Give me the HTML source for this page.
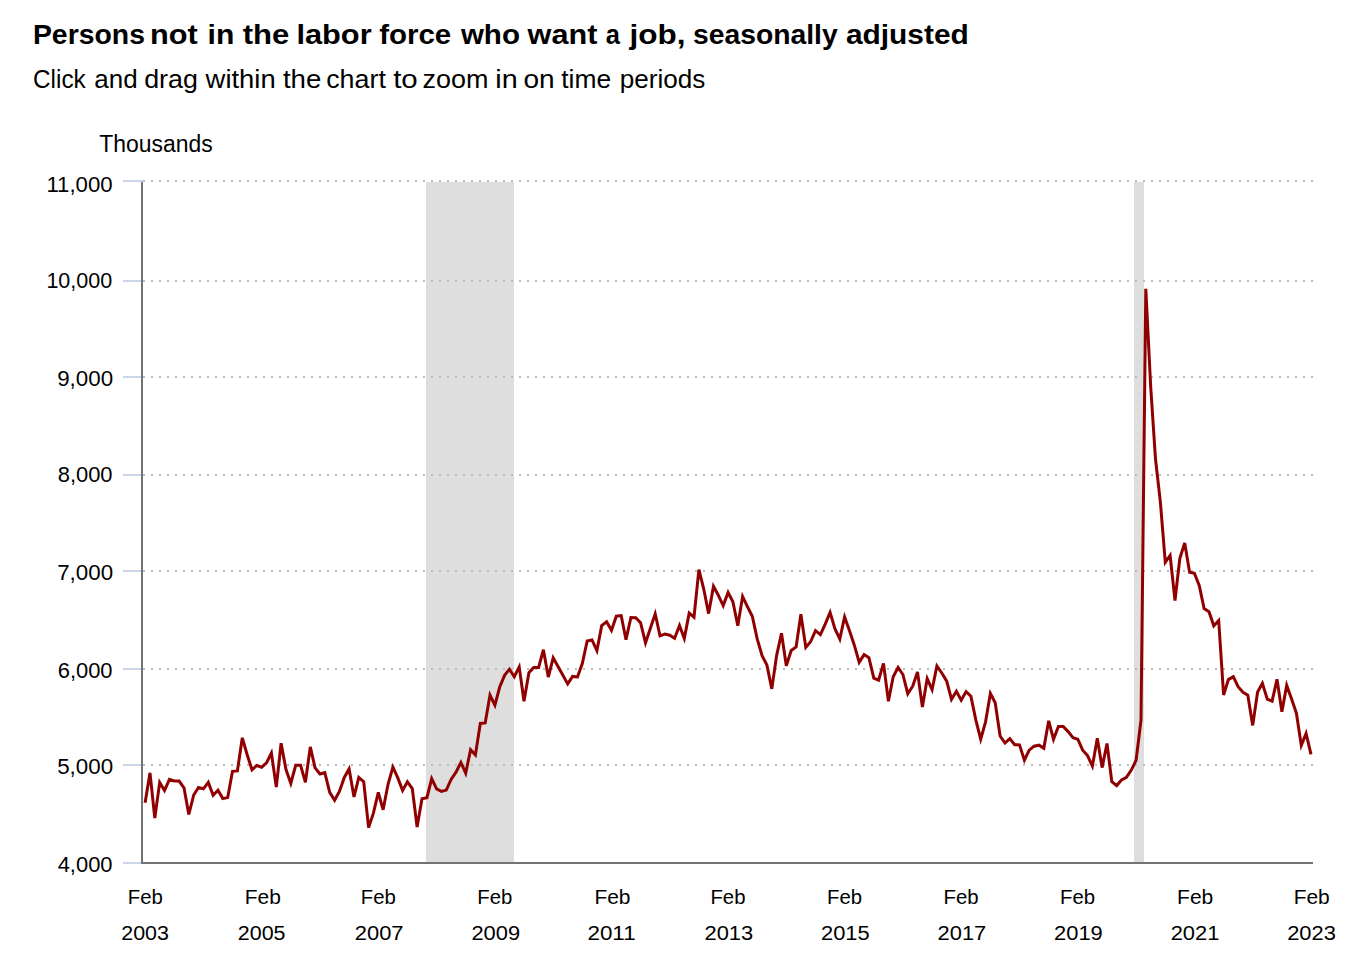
<!DOCTYPE html>
<html><head><meta charset="utf-8">
<style>
html,body{margin:0;padding:0;background:#fff;width:1371px;height:961px;overflow:hidden}
svg{display:block}
text{font-family:"Liberation Sans",sans-serif;fill:#000}
.g{stroke:#bcbcbc;stroke-width:2;stroke-dasharray:2,6}
.t{stroke:#ccd6eb;stroke-width:2}
</style></head><body>
<svg width="1371" height="961" viewBox="0 0 1371 961">
<rect x="0" y="0" width="1371" height="961" fill="#fff"/>
<rect x="426" y="182" width="88" height="680" fill="#dedede"/>
<rect x="1134" y="182" width="10" height="680" fill="#dedede"/>
<line x1="143" y1="765" x2="1313" y2="765" class="g"/>
<line x1="143" y1="669" x2="1313" y2="669" class="g"/>
<line x1="143" y1="571" x2="1313" y2="571" class="g"/>
<line x1="143" y1="475" x2="1313" y2="475" class="g"/>
<line x1="143" y1="377" x2="1313" y2="377" class="g"/>
<line x1="143" y1="281" x2="1313" y2="281" class="g"/>
<line x1="143" y1="181" x2="1313" y2="181" class="g"/>
<line x1="123" y1="863" x2="143" y2="863" class="t"/>
<line x1="123" y1="765" x2="143" y2="765" class="t"/>
<line x1="123" y1="669" x2="143" y2="669" class="t"/>
<line x1="123" y1="571" x2="143" y2="571" class="t"/>
<line x1="123" y1="475" x2="143" y2="475" class="t"/>
<line x1="123" y1="377" x2="143" y2="377" class="t"/>
<line x1="123" y1="281" x2="143" y2="281" class="t"/>
<line x1="123" y1="181" x2="143" y2="181" class="t"/>
<line x1="142" y1="182" x2="142" y2="862" stroke="#737373" stroke-width="2"/>
<line x1="141" y1="863" x2="1313" y2="863" stroke="#737373" stroke-width="2"/>
<polyline points="145.1,802.8 150.0,772.8 154.8,818.1 159.7,782.4 164.5,790.5 169.4,779.3 174.2,781.0 179.1,781.0 184.0,787.8 188.8,814.5 193.7,795.0 198.5,787.5 203.4,788.8 208.3,782.4 213.1,795.2 218.0,790.2 222.8,798.6 227.7,797.6 232.5,771.3 237.4,770.9 242.3,737.8 247.1,754.5 252.0,769.8 256.8,765.5 261.7,767.2 266.5,762.8 271.4,753.0 276.3,787.1 281.1,743.2 286.0,769.6 290.8,783.5 295.7,765.3 300.6,765.3 305.4,782.3 310.3,746.9 315.1,767.9 320.0,774.0 324.8,772.7 329.7,792.3 334.6,800.2 339.4,791.4 344.3,777.4 349.1,768.9 354.0,796.9 358.8,777.5 363.7,781.7 368.6,827.6 373.4,813.1 378.3,792.3 383.1,809.8 388.0,784.5 392.9,767.2 397.7,777.7 402.6,790.4 407.4,781.8 412.3,788.5 417.1,827.1 422.0,798.8 426.9,797.7 431.7,778.6 436.6,788.9 441.4,791.4 446.3,790.1 451.1,779.5 456.0,772.2 460.9,762.5 465.7,773.1 470.6,749.7 475.4,754.9 480.3,723.4 485.2,722.9 490.0,695.0 494.9,705.1 499.7,687.0 504.6,675.3 509.4,669.2 514.3,676.7 519.2,666.9 524.0,701.3 528.9,672.8 533.7,667.6 538.6,667.6 543.4,649.7 548.3,677.1 553.2,657.8 558.0,666.5 562.9,675.2 567.7,683.9 572.6,676.4 577.5,676.9 582.3,663.6 587.2,641.0 592.0,640.0 596.9,650.7 601.7,625.7 606.6,621.8 611.5,630.3 616.3,616.2 621.2,615.6 626.0,639.7 630.9,617.5 635.7,617.7 640.6,622.8 645.5,642.8 650.3,628.6 655.2,613.8 660.0,635.8 664.9,634.1 669.8,635.2 674.6,638.3 679.5,625.5 684.3,638.4 689.2,613.1 694.0,617.2 698.9,569.6 703.8,589.3 708.6,613.6 713.5,586.3 718.3,595.2 723.2,605.6 728.1,592.5 732.9,601.7 737.8,625.8 742.6,596.4 747.5,606.8 752.3,616.3 757.2,638.9 762.1,655.6 766.9,665.1 771.8,688.9 776.6,655.6 781.5,633.3 786.3,665.8 791.2,650.5 796.1,646.9 800.9,614.3 805.8,647.4 810.6,641.8 815.5,630.6 820.4,634.7 825.2,624.2 830.1,612.4 834.9,628.6 839.8,639.0 844.6,617.0 849.5,630.8 854.4,645.4 859.2,662.3 864.1,654.6 868.9,657.7 873.8,678.1 878.6,680.1 883.5,663.4 888.4,701.2 893.2,676.7 898.1,667.4 902.9,674.5 907.8,693.7 912.7,686.2 917.5,671.9 922.4,707.1 927.2,678.6 932.1,689.7 936.9,666.0 941.8,673.0 946.7,681.1 951.5,699.5 956.4,691.3 961.2,700.2 966.1,691.6 970.9,696.3 975.8,719.9 980.7,739.1 985.5,722.1 990.4,693.5 995.2,702.7 1000.1,736.0 1005.0,743.0 1009.8,738.6 1014.7,744.7 1019.5,744.9 1024.4,760.2 1029.2,750.2 1034.1,746.2 1039.0,745.2 1043.8,748.3 1048.7,720.8 1053.5,739.4 1058.4,726.5 1063.2,726.5 1068.1,731.6 1073.0,737.7 1077.8,739.2 1082.7,750.2 1087.5,755.6 1092.4,766.1 1097.3,738.3 1102.1,767.6 1107.0,743.5 1111.8,781.6 1116.7,785.6 1121.5,780.0 1126.4,777.4 1131.3,770.1 1136.1,760.2 1141.0,720.2 1145.8,288.8 1150.7,386.7 1155.5,459.0 1160.4,502.4 1165.3,562.3 1170.1,555.4 1175.0,600.5 1179.8,558.6 1184.7,542.9 1189.6,572.2 1194.4,573.2 1199.3,585.7 1204.1,608.6 1209.0,611.7 1213.8,625.8 1218.7,620.5 1223.6,695.0 1228.4,679.6 1233.3,676.6 1238.1,686.7 1243.0,692.3 1247.8,695.2 1252.7,725.4 1257.6,692.0 1262.4,683.3 1267.3,699.1 1272.1,701.2 1277.0,679.3 1281.9,711.8 1286.7,685.4 1291.6,699.1 1296.4,713.2 1301.3,745.4 1306.1,733.5 1311.0,754.3" fill="none" stroke="#900000" stroke-width="3"/>
<text x="32.95" y="44" style="font-size:28px;font-weight:bold" textLength="112.04" lengthAdjust="spacingAndGlyphs">Persons</text>
<text x="150.00" y="44" style="font-size:28px;font-weight:bold" textLength="47.70" lengthAdjust="spacingAndGlyphs">not</text>
<text x="207.55" y="44" style="font-size:28px;font-weight:bold" textLength="26.71" lengthAdjust="spacingAndGlyphs">in</text>
<text x="242.65" y="44" style="font-size:28px;font-weight:bold" textLength="46.60" lengthAdjust="spacingAndGlyphs">the</text>
<text x="296.45" y="44" style="font-size:28px;font-weight:bold" textLength="75.21" lengthAdjust="spacingAndGlyphs">labor</text>
<text x="379.15" y="44" style="font-size:28px;font-weight:bold" textLength="72.05" lengthAdjust="spacingAndGlyphs">force</text>
<text x="460.90" y="44" style="font-size:28px;font-weight:bold" textLength="59.07" lengthAdjust="spacingAndGlyphs">who</text>
<text x="527.60" y="44" style="font-size:28px;font-weight:bold" textLength="69.77" lengthAdjust="spacingAndGlyphs">want</text>
<text x="605.85" y="44" style="font-size:28px;font-weight:bold" textLength="14.15" lengthAdjust="spacingAndGlyphs">a</text>
<text x="629.60" y="44" style="font-size:28px;font-weight:bold" textLength="56.01" lengthAdjust="spacingAndGlyphs">job,</text>
<text x="692.95" y="44" style="font-size:28px;font-weight:bold" textLength="144.73" lengthAdjust="spacingAndGlyphs">seasonally</text>
<text x="845.95" y="44" style="font-size:28px;font-weight:bold" textLength="122.87" lengthAdjust="spacingAndGlyphs">adjusted</text>
<text x="33.05" y="88" style="font-size:25px;font-weight:normal" textLength="52.68" lengthAdjust="spacingAndGlyphs">Click</text>
<text x="94.35" y="88" style="font-size:25px;font-weight:normal" textLength="43.34" lengthAdjust="spacingAndGlyphs">and</text>
<text x="144.15" y="88" style="font-size:25px;font-weight:normal" textLength="53.72" lengthAdjust="spacingAndGlyphs">drag</text>
<text x="205.60" y="88" style="font-size:25px;font-weight:normal" textLength="70.12" lengthAdjust="spacingAndGlyphs">within</text>
<text x="282.95" y="88" style="font-size:25px;font-weight:normal" textLength="38.46" lengthAdjust="spacingAndGlyphs">the</text>
<text x="326.20" y="88" style="font-size:25px;font-weight:normal" textLength="59.67" lengthAdjust="spacingAndGlyphs">chart</text>
<text x="393.15" y="88" style="font-size:25px;font-weight:normal" textLength="24.60" lengthAdjust="spacingAndGlyphs">to</text>
<text x="422.45" y="88" style="font-size:25px;font-weight:normal" textLength="65.92" lengthAdjust="spacingAndGlyphs">zoom</text>
<text x="495.25" y="88" style="font-size:25px;font-weight:normal" textLength="22.40" lengthAdjust="spacingAndGlyphs">in</text>
<text x="523.50" y="88" style="font-size:25px;font-weight:normal" textLength="31.19" lengthAdjust="spacingAndGlyphs">on</text>
<text x="561.25" y="88" style="font-size:25px;font-weight:normal" textLength="49.88" lengthAdjust="spacingAndGlyphs">time</text>
<text x="619.75" y="88" style="font-size:25px;font-weight:normal" textLength="85.61" lengthAdjust="spacingAndGlyphs">periods</text>
<text x="99.35" y="151.6" style="font-size:23px;font-weight:normal" textLength="113.32" lengthAdjust="spacingAndGlyphs">Thousands</text>
<text x="57.70" y="871.9" style="font-size:21.5px;font-weight:normal" textLength="54.84" lengthAdjust="spacingAndGlyphs">4,000</text>
<text x="57.20" y="773.8" style="font-size:21.5px;font-weight:normal" textLength="55.89" lengthAdjust="spacingAndGlyphs">5,000</text>
<text x="57.70" y="677.7" style="font-size:21.5px;font-weight:normal" textLength="54.86" lengthAdjust="spacingAndGlyphs">6,000</text>
<text x="57.20" y="579.8" style="font-size:21.5px;font-weight:normal" textLength="55.89" lengthAdjust="spacingAndGlyphs">7,000</text>
<text x="57.70" y="481.8" style="font-size:21.5px;font-weight:normal" textLength="54.86" lengthAdjust="spacingAndGlyphs">8,000</text>
<text x="57.20" y="385.7" style="font-size:21.5px;font-weight:normal" textLength="55.87" lengthAdjust="spacingAndGlyphs">9,000</text>
<text x="46.40" y="287.9" style="font-size:21.5px;font-weight:normal" textLength="65.80" lengthAdjust="spacingAndGlyphs">10,000</text>
<text x="46.40" y="191.9" style="font-size:21.5px;font-weight:normal" textLength="66.25" lengthAdjust="spacingAndGlyphs">11,000</text>
<text x="127.75" y="904" style="font-size:20px;font-weight:normal" textLength="35.03" lengthAdjust="spacingAndGlyphs">Feb</text>
<text x="121.30" y="940" style="font-size:20px;font-weight:normal" textLength="47.62" lengthAdjust="spacingAndGlyphs">2003</text>
<text x="244.79" y="904" style="font-size:20px;font-weight:normal" textLength="36.10" lengthAdjust="spacingAndGlyphs">Feb</text>
<text x="237.84" y="940" style="font-size:20px;font-weight:normal" textLength="47.71" lengthAdjust="spacingAndGlyphs">2005</text>
<text x="360.83" y="904" style="font-size:20px;font-weight:normal" textLength="35.03" lengthAdjust="spacingAndGlyphs">Feb</text>
<text x="354.88" y="940" style="font-size:20px;font-weight:normal" textLength="48.66" lengthAdjust="spacingAndGlyphs">2007</text>
<text x="477.37" y="904" style="font-size:20px;font-weight:normal" textLength="35.03" lengthAdjust="spacingAndGlyphs">Feb</text>
<text x="471.42" y="940" style="font-size:20px;font-weight:normal" textLength="48.66" lengthAdjust="spacingAndGlyphs">2009</text>
<text x="594.41" y="904" style="font-size:20px;font-weight:normal" textLength="36.10" lengthAdjust="spacingAndGlyphs">Feb</text>
<text x="587.46" y="940" style="font-size:20px;font-weight:normal" textLength="48.15" lengthAdjust="spacingAndGlyphs">2011</text>
<text x="710.45" y="904" style="font-size:20px;font-weight:normal" textLength="35.03" lengthAdjust="spacingAndGlyphs">Feb</text>
<text x="704.50" y="940" style="font-size:20px;font-weight:normal" textLength="48.66" lengthAdjust="spacingAndGlyphs">2013</text>
<text x="826.99" y="904" style="font-size:20px;font-weight:normal" textLength="35.00" lengthAdjust="spacingAndGlyphs">Feb</text>
<text x="821.04" y="940" style="font-size:20px;font-weight:normal" textLength="48.68" lengthAdjust="spacingAndGlyphs">2015</text>
<text x="943.53" y="904" style="font-size:20px;font-weight:normal" textLength="35.03" lengthAdjust="spacingAndGlyphs">Feb</text>
<text x="937.58" y="940" style="font-size:20px;font-weight:normal" textLength="48.66" lengthAdjust="spacingAndGlyphs">2017</text>
<text x="1060.07" y="904" style="font-size:20px;font-weight:normal" textLength="35.03" lengthAdjust="spacingAndGlyphs">Feb</text>
<text x="1054.12" y="940" style="font-size:20px;font-weight:normal" textLength="48.66" lengthAdjust="spacingAndGlyphs">2019</text>
<text x="1177.11" y="904" style="font-size:20px;font-weight:normal" textLength="36.12" lengthAdjust="spacingAndGlyphs">Feb</text>
<text x="1170.66" y="940" style="font-size:20px;font-weight:normal" textLength="48.66" lengthAdjust="spacingAndGlyphs">2021</text>
<text x="1293.65" y="904" style="font-size:20px;font-weight:normal" textLength="36.10" lengthAdjust="spacingAndGlyphs">Feb</text>
<text x="1287.20" y="940" style="font-size:20px;font-weight:normal" textLength="48.66" lengthAdjust="spacingAndGlyphs">2023</text>
</svg>
</body></html>
